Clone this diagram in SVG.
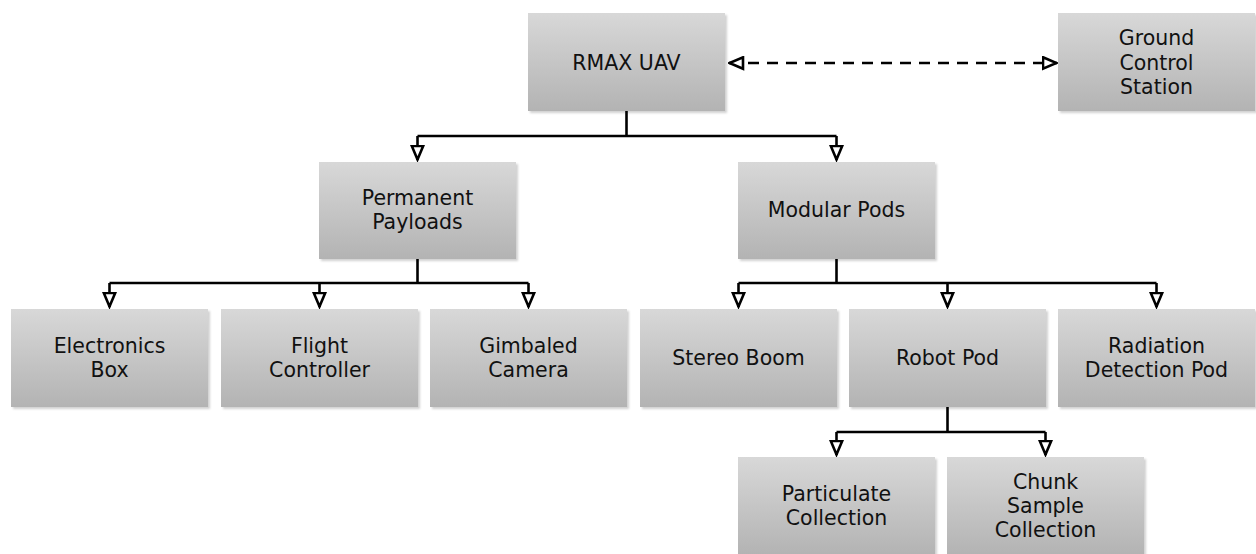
<svg xmlns="http://www.w3.org/2000/svg" width="1256" height="554" viewBox="0 0 1256 554">
<style>
.box{fill:url(#g);filter:url(#sh)}
.t{font-family:"DejaVu Sans","Verdana",sans-serif;font-size:20.5px;fill:#111;text-anchor:middle}
.c{fill:none;stroke:#000;stroke-width:2.6}
.d{fill:none;stroke:#000;stroke-width:2.6;stroke-dasharray:11 8}
</style>
<defs>
<linearGradient id="g" x1="0" y1="0" x2="0" y2="1">
<stop offset="0" stop-color="#d8d8d8"/>
<stop offset="1" stop-color="#b3b3b3"/>
</linearGradient>
<filter id="sh" x="-5%" y="-5%" width="115%" height="115%">
<feDropShadow dx="2" dy="2" stdDeviation="1" flood-color="#000" flood-opacity="0.18"/>
</filter>
<marker id="a" viewBox="0 0 17 15" refX="15.5" refY="7.5" markerWidth="17" markerHeight="15" markerUnits="userSpaceOnUse" orient="auto-start-reverse">
<path d="M1.5,1.8 L15,7.5 L1.5,13.2 Z" fill="#fff" stroke="#000" stroke-width="2.6" stroke-linejoin="miter"/>
</marker>
</defs>

<g id="connectors">
<path class="d" d="M729,63 H1057" marker-start="url(#a)" marker-end="url(#a)"/>
<path class="c" d="M626.5,111 V136"/>
<path class="c" d="M417.5,136 H836.5"/>
<path class="c" d="M417.5,136 V160" marker-end="url(#a)"/>
<path class="c" d="M836.5,136 V160" marker-end="url(#a)"/>
<path class="c" d="M417.5,259 V283"/>
<path class="c" d="M109.5,283 H528.5"/>
<path class="c" d="M109.5,283 V307" marker-end="url(#a)"/>
<path class="c" d="M319.5,283 V307" marker-end="url(#a)"/>
<path class="c" d="M528.5,283 V307" marker-end="url(#a)"/>
<path class="c" d="M836.5,259 V283"/>
<path class="c" d="M738.5,283 H1156.5"/>
<path class="c" d="M738.5,283 V307" marker-end="url(#a)"/>
<path class="c" d="M947.5,283 V307" marker-end="url(#a)"/>
<path class="c" d="M1156.5,283 V307" marker-end="url(#a)"/>
<path class="c" d="M947.5,407 V432"/>
<path class="c" d="M836.5,432 H1045.5"/>
<path class="c" d="M836.5,432 V455" marker-end="url(#a)"/>
<path class="c" d="M1045.5,432 V455" marker-end="url(#a)"/>
</g>

<g id="rmax"><rect class="box" x="528" y="13" width="197" height="98"/><text class="t" x="626.5" y="69.5">RMAX UAV</text></g>
<g id="gcs"><rect class="box" x="1058" y="13" width="197" height="98"/><text class="t" x="1156.5" y="45">Ground</text><text class="t" x="1156.5" y="69.5">Control</text><text class="t" x="1156.5" y="94">Station</text></g>

<g id="permanent"><rect class="box" x="319" y="162" width="197" height="97"/><text class="t" x="417.5" y="205">Permanent</text><text class="t" x="417.5" y="229">Payloads</text></g>
<g id="modular"><rect class="box" x="738" y="162" width="197" height="97"/><text class="t" x="836.5" y="217">Modular Pods</text></g>

<g id="electronics"><rect class="box" x="11" y="309" width="197" height="98"/><text class="t" x="109.5" y="353">Electronics</text><text class="t" x="109.5" y="377">Box</text></g>
<g id="flight"><rect class="box" x="221" y="309" width="197" height="98"/><text class="t" x="319.5" y="353">Flight</text><text class="t" x="319.5" y="377">Controller</text></g>
<g id="gimbaled"><rect class="box" x="430" y="309" width="197" height="98"/><text class="t" x="528.5" y="353">Gimbaled</text><text class="t" x="528.5" y="377">Camera</text></g>
<g id="stereo"><rect class="box" x="640" y="309" width="197" height="98"/><text class="t" x="738.5" y="365">Stereo Boom</text></g>
<g id="robot"><rect class="box" x="849" y="309" width="197" height="98"/><text class="t" x="947.5" y="365">Robot Pod</text></g>
<g id="radiation"><rect class="box" x="1058" y="309" width="197" height="98"/><text class="t" x="1156.5" y="353">Radiation</text><text class="t" x="1156.5" y="377">Detection Pod</text></g>

<g id="particulate"><rect class="box" x="738" y="457" width="197" height="98"/><text class="t" x="836.5" y="501">Particulate</text><text class="t" x="836.5" y="525">Collection</text></g>
<g id="chunk"><rect class="box" x="947" y="457" width="197" height="98"/><text class="t" x="1045.5" y="489">Chunk</text><text class="t" x="1045.5" y="513">Sample</text><text class="t" x="1045.5" y="537">Collection</text></g>
</svg>
